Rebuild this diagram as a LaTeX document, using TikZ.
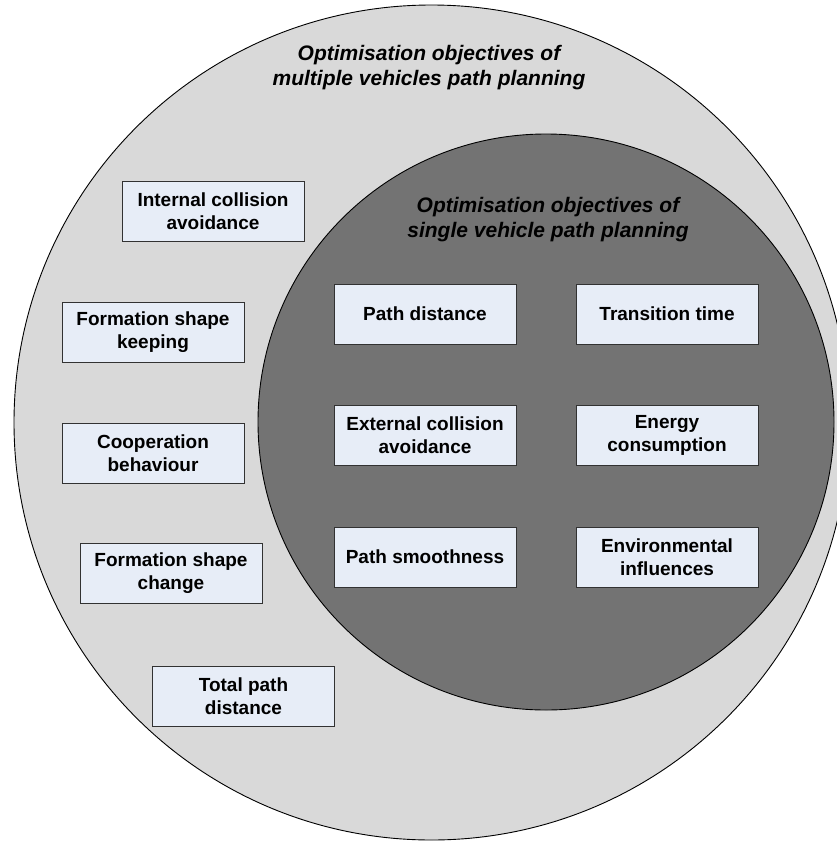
\documentclass[tikz,border=0pt]{standalone}
\usepackage{fontspec}
\setmainfont{Liberation Sans}
\definecolor{outerfill}{RGB}{217,217,217}
\definecolor{innerfill}{RGB}{115,115,115}
\definecolor{boxfill}{RGB}{231,237,247}
\definecolor{boxline}{RGB}{50,50,50}
\tikzset{
  objbox/.style={draw=boxline, line width=0.9pt, fill=boxfill, minimum width=182pt, minimum height=60pt, inner sep=0pt, align=center, font=\fontsize{19}{23}\selectfont\bfseries},
  ring/.style={draw=black, line width=0.9pt},
  ttl/.style={align=center, inner sep=0pt, font=\fontsize{21}{25}\selectfont\bfseries\itshape}
}
\begin{document}
\begin{tikzpicture}[x=1pt,y=-1pt]
\useasboundingbox (0,0) rectangle (837,841);
\clip (0,0) rectangle (837,841);
\draw[ring, fill=outerfill] (431.5,422.5) circle[radius=417.5];
\draw[ring, fill=innerfill] (546,422) circle[radius=288];
\node[ttl] (outertitle) at (429,68) {Optimisation objectives of\\multiple vehicles path planning};
\node[ttl] (innertitle) at (548,220) {Optimisation objectives of\\single vehicle path planning};
% outer boxes
\node[objbox] (ica) at (213,211) {Internal collision\\avoidance};
\node[objbox] (fsk) at (153,332) {Formation shape\\keeping};
\node[objbox] (cb) at (153,453) {Cooperation\\behaviour};
\node[objbox] (fsc) at (171,573) {Formation shape\\change};
\node[objbox] (tpd) at (243.5,696) {Total path\\distance};
% inner boxes
\node[objbox] (pd) at (425,314) {Path distance};
\node[objbox] (tt) at (667,314) {Transition time};
\node[objbox] (eca) at (425,435) {External collision\\avoidance};
\node[objbox] (ec) at (667,435) {Energy\\consumption};
\node[objbox] (ps) at (425,557) {Path smoothness};
\node[objbox] (ei) at (667,557) {Environmental\\influences};
\end{tikzpicture}
\end{document}
